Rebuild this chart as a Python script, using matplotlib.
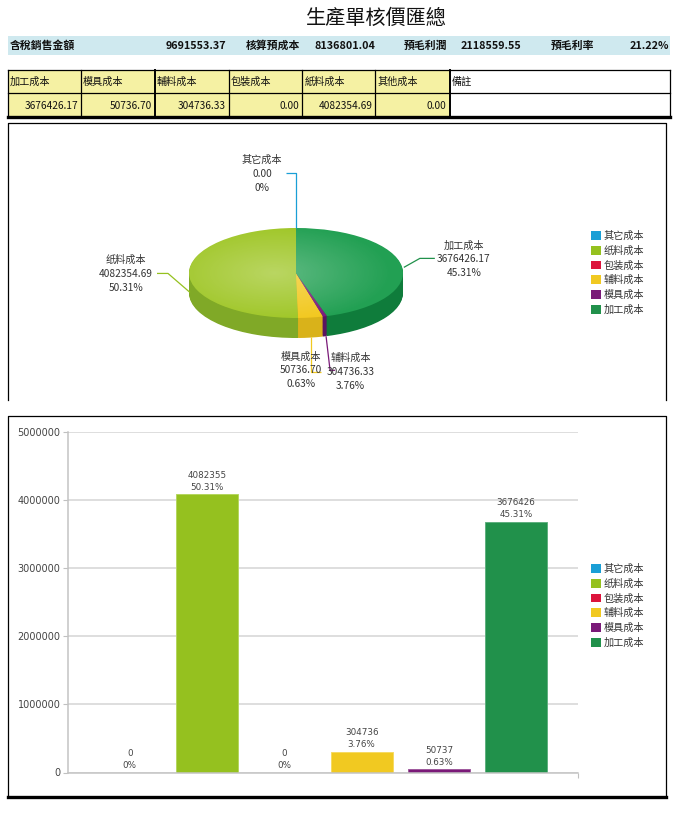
import numpy as np
import matplotlib
matplotlib.use('Agg')
import matplotlib.pyplot as plt
from matplotlib.patches import Rectangle, Circle, Patch

plt.rcParams['font.family'] = ['Noto Sans CJK TC', 'DejaVu Sans']
plt.rcParams['axes.unicode_minus'] = False

W, H = 679, 817

# ---- 数据 ----
title = '生產單核價匯總'
summary_labels = ['含稅銷售金額', '核算預成本', '預毛利潤', '預毛利率']
summary_values = ['9691553.37', '8136801.04', '2118559.55', '21.22%']

table_headers = ['加工成本', '模具成本', '輔料成本', '包裝成本', '紙料成本', '其他成本', '備註']
table_values = [3676426.17, 50736.70, 304736.33, 0.00, 4082354.69, 0.00]

chart_names = ['其它成本', '纸料成本', '包装成本', '辅料成本', '模具成本', '加工成本']
chart_values = [0.00, 4082354.69, 0.00, 304736.33, 50736.70, 3676426.17]
y_ticks = [0, 1000000, 2000000, 3000000, 4000000, 5000000]

bar_colors = ['#1a9fd6', '#95c11f', '#dc143c', '#f1c921', '#7a1a78', '#21914b']
edge_colors = ['#5cbbe2', '#b5d65f', '#e65a74', '#f6da63', '#a05a9e', '#5fb07f']
top_colors = ['#1a9fd6', '#9fc626', '#dc143c', '#f2c81e', '#7b1b7b', '#22a053']
side_colors = ['#1580ad', '#80a927', '#b01030', '#d9b21a', '#5b1460', '#0f7c3b']

total = sum(chart_values)
pcts = [v / total * 100 for v in chart_values]


def pct_text(p):
    return '0%' if p == 0 else f'{p:.2f}%'


def fig_rect(x0, y0, x1, y1):
    return [x0 / W, 1 - y1 / H, (x1 - x0) / W, (y1 - y0) / H]


fig = plt.figure(figsize=(W / 100, H / 100), dpi=100)

# ---- 背景层：标题、汇总条、表格、边框 ----
bg = fig.add_axes([0, 0, 1, 1])
bg.set_xlim(0, W)
bg.set_ylim(H, 0)
bg.axis('off')

bg.text(376, 18, title, fontsize=14.5, ha='center', va='center', color='#111111')

bg.add_patch(Rectangle((7.8, 36), 662.2, 19, facecolor='#cfe9ef', edgecolor='none'))
band_pos = [(10, 'left'), (226, 'right'), (246, 'left'), (375, 'right'),
            (404, 'left'), (521, 'right'), (551, 'left'), (669, 'right')]
band_texts = []
for lab, val in zip(summary_labels, summary_values):
    band_texts += [lab, val]
for (bx, ha), txt in zip(band_pos, band_texts):
    bg.text(bx, 45.5, txt, fontsize=7.8, fontweight='bold', ha=ha, va='center', color='#111111')

col_x = [7.8, 81, 154.6, 228.7, 302.3, 375.4, 449.5, 670]
row_y = [70, 93.3, 117.3]
for i in range(7):
    fc = '#f5f1a3' if i < 6 else 'white'
    bg.add_patch(Rectangle((col_x[i], row_y[0]), col_x[i + 1] - col_x[i], row_y[2] - row_y[0],
                           facecolor=fc, edgecolor='none'))
    bg.text(col_x[i] + 2, 81.7, table_headers[i], fontsize=7.3, ha='left', va='center', color='#111111')
    if i < 6:
        bg.text(col_x[i + 1] - 3, 106, f'{table_values[i]:.2f}', fontsize=7.3, ha='right',
                va='center', color='#111111')
for i, cx in enumerate(col_x):
    lw = 1.4 if i in (2, 6) else 0.9
    bg.plot([cx, cx], [row_y[0], row_y[2]], color='black', lw=lw)
bg.plot([col_x[0], col_x[-1]], [row_y[0], row_y[0]], color='black', lw=0.9)
bg.plot([col_x[0], col_x[-1]], [row_y[1], row_y[1]], color='black', lw=0.9)
bg.plot([col_x[0], col_x[-1]], [row_y[2], row_y[2]], color='black', lw=2.4)

# 饼图面板边框
bg.plot([7.5, 7.5, 666, 666], [400, 123, 123, 400], color='black', lw=0.9)
# 柱状图面板边框
bg.plot([7.5, 7.5, 666, 666], [797, 416, 416, 797], color='black', lw=0.9)
bg.plot([7.5, 666], [797, 797], color='black', lw=2.4)

# ---- 3D 饼图 ----
ax_pie = fig.add_axes(fig_rect(7, 123, 580, 400))
PX_X, PX_Y = 107.0, 45.0
depth = 20 / PX_Y
n_layers = 24
for k in range(n_layers, 0, -1):
    ax_pie.pie(chart_values, colors=side_colors, startangle=90,
               center=(0, -depth * k / n_layers), wedgeprops=dict(linewidth=0))
wedges, _ = ax_pie.pie(chart_values, colors=top_colors, startangle=90,
                       wedgeprops=dict(linewidth=0))

gx, gy = np.meshgrid(np.linspace(-1, 1, 200), np.linspace(-1, 1, 200))
rr = np.hypot(gx + 0.2, gy)
shade = np.zeros((200, 200, 4))
shade[..., :3] = 1.0
shade[..., 3] = np.clip(0.28 * (1 - rr / 1.1), 0, None)
im = ax_pie.imshow(shade, extent=(-1, 1, -1, 1), aspect='auto', zorder=3, interpolation='bilinear')
im.set_clip_path(Circle((0, 0), 1, transform=ax_pie.transData))

ax_pie.set_aspect('auto')
ax_pie.set_xlim(-(296 - 7) / PX_X, (580 - 296) / PX_X)
ax_pie.set_ylim(-(400 - 273) / PX_Y, (273 - 123) / PX_Y)
ax_pie.axis('off')

# 标签: index -> (引导线像素偏移, 文本中心像素偏移)
pie_labels = {
    0: ([(0, 0), (0, -55), (-10, -55)], (-34, -54)),
    5: ([(2, 1), (18, -8), (33, -8)], (62, -7)),
    1: ([(1, 19), (-21, 0), (-32, 0)], (-63, 0.5)),
    3: ([(0, 19), (0, 54), (10, 54)], (40, 54)),
    4: ([(1, 20), (5, 54), (10, 54)], (-24, 54)),
}
for i, (path, (tx, ty)) in pie_labels.items():
    w = wedges[i]
    th = np.deg2rad((w.theta1 + w.theta2) / 2)
    ax0, ay0 = np.cos(th), np.sin(th)
    xs = [ax0 + dx / PX_X for dx, dy in path]
    ys = [ay0 - dy / PX_Y for dx, dy in path]
    ax_pie.plot(xs, ys, color=bar_colors[i], lw=0.9, zorder=4, solid_capstyle='butt')
    lines = [chart_names[i], f'{chart_values[i]:.2f}', pct_text(pcts[i])]
    for j, txt in enumerate(lines):
        ax_pie.text(ax0 + tx / PX_X, ay0 - (ty + (j - 1) * 14) / PX_Y, txt, fontsize=7.3,
                    ha='center', va='center', color='#333333', zorder=5)

handles = [Patch(facecolor=c, edgecolor='none') for c in bar_colors]
ax_pie.legend(handles, chart_names, loc='upper left', bbox_to_anchor=(591 / W, 1 - 231 / H),
              bbox_transform=fig.transFigure, frameon=False, fontsize=7.3, handlelength=0.95,
              handleheight=0.95, handletextpad=0.3, labelspacing=0.45, borderpad=0,
              borderaxespad=0, labelcolor='#333333')

# ---- 柱状图 ----
ax_bar = fig.add_axes(fig_rect(68, 431.7, 578, 772.5))
x = np.arange(len(chart_values))
ax_bar.bar(x, chart_values, width=0.8, color=bar_colors, edgecolor=edge_colors, linewidth=0.7)
ax_bar.set_xlim(-0.8, 5.8)
ax_bar.set_ylim(0, 5000000)
ax_bar.set_yticks(y_ticks)
ax_bar.set_yticklabels([str(t) for t in y_ticks], fontsize=7, color='#444444', family='DejaVu Sans')
ax_bar.set_xticks([5.8])
ax_bar.set_xticklabels([''])
ax_bar.tick_params(axis='both', length=3.5, width=0.8, color='#c0c0c0', pad=2)
ax_bar.yaxis.grid(True, color='#d4d4d4', linewidth=1.1)
ax_bar.set_axisbelow(True)
for s in ('top', 'right'):
    ax_bar.spines[s].set_visible(False)
for s in ('left', 'bottom'):
    ax_bar.spines[s].set_color('#c4c4c4')
    ax_bar.spines[s].set_linewidth(1.1)
ax_bar.patch.set_alpha(0)

for i, v in enumerate(chart_values):
    ax_bar.annotate(str(int(round(v))), (i, v), xytext=(0, 19 * 0.72), textcoords='offset points',
                    ha='center', va='center', fontsize=6.3, color='#444444', family='DejaVu Sans')
    ax_bar.annotate(pct_text(pcts[i]), (i, v), xytext=(0, 7 * 0.72), textcoords='offset points',
                    ha='center', va='center', fontsize=6.3, color='#444444', family='DejaVu Sans')

ax_bar.legend(handles, chart_names, loc='upper left', bbox_to_anchor=(591 / W, 1 - 564 / H),
              bbox_transform=fig.transFigure, frameon=False, fontsize=7.3, handlelength=0.95,
              handleheight=0.95, handletextpad=0.3, labelspacing=0.45, borderpad=0,
              borderaxespad=0, labelcolor='#333333')

fig.savefig('out.png', dpi=100)
